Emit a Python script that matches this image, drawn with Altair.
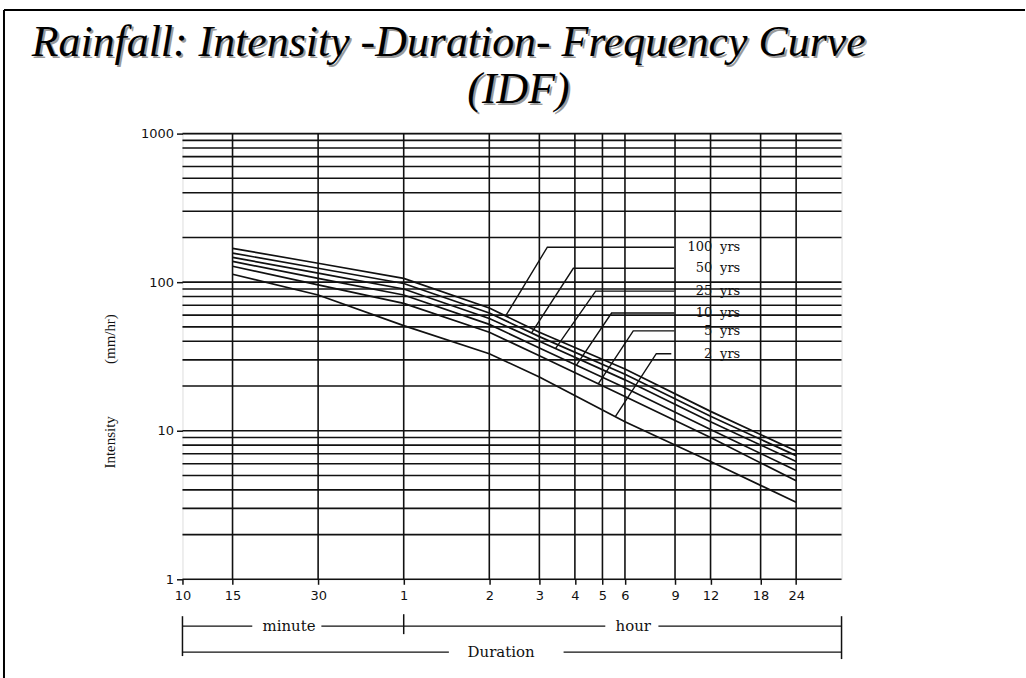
import altair as alt
import numpy as np
import pandas as pd

# ---- IDF curves: rainfall intensity (mm/hr) against storm duration (minutes)
durations_min = [15, 30, 60, 120, 180, 360, 720, 1440]
i_100yr = [169, 134, 106, 67, 46, 26.0, 13.5, 7.3]
i_50yr = [157, 124, 98, 62, 43, 24.0, 12.5, 6.8]
i_25yr = [147, 115, 90, 57, 40, 22.0, 11.5, 6.2]
i_10yr = [138, 106, 82, 52, 36, 19.5, 10.2, 5.4]
i_5yr = [128, 96, 72, 46, 32, 17.0, 9.0, 4.6]
i_2yr = [113, 82, 51, 33, 23, 11.5, 6.2, 3.3]

periods = ["100", "50", "25", "10", "5", "2"]
series = [i_100yr, i_50yr, i_25yr, i_10yr, i_5yr, i_2yr]

# ---- axis ticks (durations in minutes) and their printed labels
x_tick_values = [10, 15, 30, 60, 120, 180, 240, 300, 360, 540, 720, 1080, 1440]
x_tick_labels = ["10", "15", "30", "1", "2", "3", "4", "5", "6", "9", "12", "18", "24"]
y_tick_values = [1, 10, 100, 1000]

# ---- log-paper grid
h_grid = [m * 10 ** k for k in range(3) for m in range(1, 10)] + [1000]
v_grid = [15, 30, 60, 120, 180, 240, 300, 360, 540, 720, 1080, 1440]

# ---- return-period labels with their leader lines
label_level = [172, 124, 87, 62, 47, 33]          # intensity of each label row
leader_start = [537, 537, 537, 537, 537, 524]     # duration where the leader leaves the label
leader_knee = [192, 237, 284, 323, 385, 464]      # duration of the bend
leader_end = [137, 169, 205, 243, 290, 333]       # duration where the leader meets its curve
label_num_at = 730
label_unit_at = 778

# ---- duration brackets under the axis
x_min, x_max = 10, 2080
minute_row = [(10, 17.6), (30.8, 60)]
hour_row = [(60, 307), (472, 2080)]
duration_row = [(10, 86.5), (219, 2080)]
bracket_text = [("minute", 23.7, 494), ("hour", 385, 494), ("Duration", 132, 520)]

title_lines = ["Rainfall: Intensity -Duration- Frequency Curve", "(IDF)"]

curves = pd.DataFrame(
    [
        {"period": p, "duration": d, "intensity": v}
        for p, vals in zip(periods, series)
        for d, v in zip(durations_min, vals)
    ]
)


def on_curve(vals, d):
    return float(10 ** np.interp(np.log10(d), np.log10(durations_min), np.log10(vals)))


leaders = []
for p, vals, lvl, s, k, e in zip(periods, series, label_level, leader_start, leader_knee, leader_end):
    leaders += [
        {"period": p, "seq": 0, "duration": s, "intensity": lvl},
        {"period": p, "seq": 1, "duration": k, "intensity": lvl},
        {"period": p, "seq": 2, "duration": e, "intensity": on_curve(vals, e)},
    ]
leaders = pd.DataFrame(leaders)

labels = pd.DataFrame(
    {"period": periods, "intensity": label_level,
     "num_at": [label_num_at] * 6, "unit_at": [label_unit_at] * 6}
)

x_scale = alt.Scale(type="log", domain=[x_min, x_max], nice=False)
y_scale = alt.Scale(type="log", domain=[1, 1000], nice=False)

label_expr = " : ".join(
    f"datum.value == {v} ? '{t}'" for v, t in zip(x_tick_values, x_tick_labels)
) + " : ''"

INK = "#111111"
TICK_FONT = "DejaVu Sans"
SERIF = "DejaVu Serif"

x_axis = alt.Axis(
    values=x_tick_values, labelExpr=label_expr, grid=False, title=None,
    tickSize=5, tickColor=INK, tickWidth=1.5, domain=False,
    labelFont=TICK_FONT, labelFontSize=13, labelColor=INK, labelPadding=5,
    labelFlush=False, labelOverlap=False,
)
y_axis = alt.Axis(
    values=y_tick_values, format="d", grid=False,
    title="Intensity" + "\u00a0" * 14 + "(mm/hr)",
    titleFont="Liberation Serif", titleFontSize=15, titleFontWeight="normal",
    titleColor=INK, titleAngle=270, titleAlign="center", titleBaseline="middle",
    titleX=-73, titleY=258,
    tickSize=6, tickColor=INK, tickWidth=1.5, domain=False,
    labelFont=TICK_FONT, labelFontSize=13, labelColor=INK, labelPadding=3,
    labelFlush=False,
)

X = lambda f: alt.X(f, scale=x_scale, axis=x_axis)
Y = lambda f: alt.Y(f, scale=y_scale, axis=y_axis)

grid_h = alt.Chart(pd.DataFrame({"v": h_grid})).mark_rule(
    color=INK, strokeWidth=1.6
).encode(y=Y("v:Q"))

grid_v = alt.Chart(pd.DataFrame({"d": v_grid})).mark_rule(
    color=INK, strokeWidth=1.6
).encode(x=X("d:Q"))

lines = alt.Chart(curves).mark_line(color=INK, strokeWidth=1.7).encode(
    x=X("duration:Q"),
    y=Y("intensity:Q"),
    detail="period:N",
    order="duration:Q",
)

leader_lines = alt.Chart(leaders).mark_line(color=INK, strokeWidth=1.4).encode(
    x=X("duration:Q"),
    y=Y("intensity:Q"),
    detail="period:N",
    order="seq:Q",
)

label_num = alt.Chart(labels).mark_text(
    align="right", baseline="middle", font=SERIF, fontSize=13, color=INK
).encode(x=X("num_at:Q"), y=Y("intensity:Q"), text="period:N")

label_unit = alt.Chart(labels).mark_text(
    align="left", baseline="middle", font=SERIF, fontSize=13, color=INK
).encode(x=X("unit_at:Q"), y=Y("intensity:Q"), text=alt.value("yrs"))


def row_rules(segs, ypix):
    df = pd.DataFrame(segs, columns=["a", "b"])
    return alt.Chart(df).mark_rule(color=INK, strokeWidth=1.3).encode(
        x=X("a:Q"), x2="b:Q", y=alt.value(ypix)
    )


def end_bar(at, top, bottom):
    return alt.Chart(pd.DataFrame({"a": [at]})).mark_rule(color=INK, strokeWidth=1.5).encode(
        x=X("a:Q"), y=alt.value(top), y2=alt.value(bottom)
    )


bracket_words = alt.Chart(
    pd.DataFrame(bracket_text, columns=["word", "at", "row"])
).mark_text(baseline="middle", align="center", font=SERIF, fontSize=15, color=INK).encode(
    x=alt.X("at:Q", scale=x_scale, axis=x_axis),
    y=alt.Y("row:Q", scale=None),
    text="word:N",
)

# two-line heading, with a soft grey shadow under the black text
heading = pd.DataFrame({"t": title_lines, "cx": [267, 337], "by": [-78, -31]})


def heading_layer(color, shift):
    return alt.Chart(heading).mark_text(
        font="Liberation Serif", fontSize=44, fontStyle="italic", align="center",
        baseline="alphabetic", color=color, dx=shift, dy=shift,
    ).encode(x=alt.X("cx:Q", scale=None), y=alt.Y("by:Q", scale=None), text="t:N")


# page frame along the top and left edges
frame_top = alt.Chart(pd.DataFrame({"k": [0]})).mark_rule(color="black", strokeWidth=2).encode(
    x=alt.value(-179), x2=alt.value(845), y=alt.value(-124)
)
frame_left = alt.Chart(pd.DataFrame({"k": [0]})).mark_rule(color="black", strokeWidth=2).encode(
    x=alt.value(-179), y=alt.value(-124), y2=alt.value(546)
)

chart = alt.layer(
    grid_h, grid_v, lines, leader_lines, label_num, label_unit,
    row_rules(minute_row + hour_row, 494), row_rules(duration_row, 520),
    end_bar(x_min, 484, 524), end_bar(60, 482, 502), end_bar(x_max, 484, 527),
    bracket_words, heading_layer("#9a9a9a", 2), heading_layer("black", 0),
    frame_top, frame_left,
).properties(
    width=661,
    height=447,
    padding={"left": 3, "top": 8, "right": 0, "bottom": 0},
).configure_view(stroke=INK, strokeWidth=1.6).configure(background="white")

chart.save("out.html", embed_options={"renderer": "svg", "actions": False})
